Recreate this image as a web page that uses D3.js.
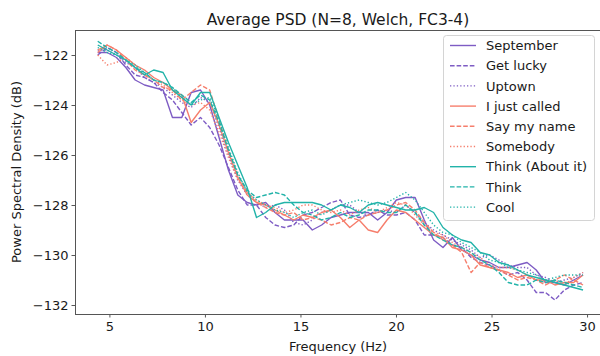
<!DOCTYPE html>
<html>
<head>
<meta charset="utf-8">
<script src="https://cdn.jsdelivr.net/npm/d3@7.9.0/dist/d3.min.js"></script>
<style>
  body { margin: 0; background: #fff; }
  svg { display: block; font-family: "DejaVu Sans", sans-serif; }
</style>
</head>
<body>
<div id="chart"></div>
<script>
// frequency bins (Hz), Welch
const freqs = [4.39, 4.88, 5.37, 5.86, 6.35, 6.84, 7.32, 7.81, 8.30, 8.79, 9.28, 9.77, 10.25,
  10.74, 11.23, 11.72, 12.21, 12.70, 13.18, 13.67, 14.16, 14.65, 15.14, 15.62, 16.11, 16.60,
  17.09, 17.58, 18.07, 18.55, 19.04, 19.53, 20.02, 20.51, 21.00, 21.48, 21.97, 22.46, 22.95,
  23.44, 23.93, 24.41, 24.90, 25.39, 25.88, 26.37, 26.86, 27.34, 27.83, 28.32, 28.81, 29.30, 29.79];

const september = [-121.9, -121.9, -122.1, -122.5, -123.0, -123.2, -123.3, -123.4, -124.5, -124.5,
  -123.5, -123.4, -124.0, -125.3, -126.6, -127.6, -127.9, -128.0, -127.9, -128.3, -128.6, -128.6,
  -128.6, -129.0, -128.8, -128.5, -128.4, -128.3, -128.3, -128.3, -128.6, -128.3, -127.8, -127.7,
  -127.7, -128.6, -129.4, -129.7, -129.3, -129.8, -130.0, -130.2, -130.3, -130.5, -130.5, -130.4,
  -130.3, -130.6, -131.1, -131.1, -131.2, -131.0, -130.8];
const getLucky = [-122.0, -121.7, -121.9, -122.4, -122.8, -122.9, -123.1, -123.5, -123.8, -124.3,
  -124.8, -124.5, -124.9, -125.6, -126.5, -127.4, -128.0, -128.0, -128.5, -128.8, -128.9, -128.8,
  -128.4, -128.3, -128.1, -127.9, -127.8, -128.4, -128.5, -128.4, -128.2, -128.4, -128.4, -128.3,
  -128.6, -129.2, -129.2, -129.3, -129.6, -129.7, -130.1, -130.3, -130.4, -130.6, -130.8, -130.7,
  -131.0, -131.5, -131.5, -131.8, -131.4, -131.2, -131.1];
const uptown = [-121.8, -121.8, -122.0, -122.3, -122.5, -122.9, -123.1, -123.3, -123.6, -123.9,
  -124.1, -123.7, -123.9, -124.9, -126.0, -127.0, -127.6, -127.9, -128.1, -128.0, -128.2, -128.7,
  -128.8, -128.6, -128.3, -128.2, -128.0, -128.0, -128.3, -128.4, -128.3, -128.2, -128.3, -128.0,
  -128.3, -128.7, -129.0, -129.2, -129.4, -129.6, -129.8, -130.1, -130.0, -130.2, -130.4, -130.5,
  -130.5, -130.8, -130.9, -131.1, -131.0, -130.9, -130.7];
const iJustCalled = [-121.9, -121.6, -121.8, -122.1, -122.4, -122.6, -122.9, -123.1, -123.4, -123.6,
  -124.7, -124.2, -123.9, -124.8, -125.9, -126.9, -127.6, -127.9, -128.0, -128.2, -128.4, -128.6,
  -128.4, -128.5, -128.3, -128.2, -128.5, -128.9, -128.6, -129.0, -129.1, -128.6, -128.2, -128.3,
  -128.6, -128.9, -129.2, -129.3, -129.7, -129.8, -130.0, -130.4, -130.5, -130.6, -130.7, -130.9,
  -130.8, -131.0, -131.0, -131.2, -131.1, -131.1, -130.8];
const sayMyName = [-121.8, -121.6, -121.8, -122.2, -122.6, -122.8, -123.0, -123.3, -123.4, -123.8,
  -123.5, -123.2, -123.4, -124.6, -125.8, -126.8, -127.5, -127.9, -128.1, -128.3, -128.4, -128.3,
  -128.6, -128.5, -128.6, -128.8, -128.7, -128.5, -128.6, -128.4, -128.3, -128.2, -128.0, -127.9,
  -128.2, -128.7, -129.1, -129.4, -129.6, -129.9, -130.7, -130.3, -130.5, -130.6, -130.8, -131.0,
  -130.9, -131.0, -131.2, -131.0, -130.8, -131.0, -131.2];
const somebody = [-122.0, -122.4, -122.3, -122.1, -122.4, -122.8, -123.0, -123.2, -123.5, -123.8,
  -124.0, -123.9, -124.2, -125.1, -126.1, -127.0, -127.5, -127.8, -128.0, -128.1, -128.3, -128.2,
  -128.0, -128.0, -128.2, -128.3, -128.2, -128.4, -128.2, -128.1, -128.3, -128.1, -127.9, -128.0,
  -128.4, -128.8, -129.1, -129.2, -129.5, -129.7, -129.9, -130.1, -130.4, -130.5, -130.5, -130.6,
  -130.8, -131.0, -131.1, -131.0, -131.2, -130.9, -130.7];
const thinkAboutIt = [-121.6, -121.8, -122.0, -122.2, -122.5, -122.8, -122.6, -122.7, -123.4, -123.7,
  -124.0, -123.5, -123.5, -124.5, -125.5, -126.4, -127.3, -128.5, -128.3, -128.0, -127.9, -127.9,
  -127.9, -127.9, -128.0, -128.2, -128.0, -128.1, -128.3, -128.0, -127.9, -128.0, -128.1, -128.2,
  -128.2, -128.1, -128.3, -128.9, -129.2, -129.4, -129.5, -129.9, -130.0, -130.3, -130.4, -130.6,
  -130.8, -130.9, -131.0, -131.1, -131.2, -131.3, -131.4];
const think = [-121.45, -121.7, -121.9, -122.2, -122.5, -122.7, -123.0, -123.1, -123.3, -123.6,
  -123.9, -123.6, -123.8, -124.7, -125.8, -126.8, -127.4, -127.7, -127.6, -127.5, -127.6, -128.0,
  -128.3, -128.4, -128.6, -128.5, -128.3, -128.5, -128.4, -128.2, -128.2, -128.3, -128.3, -128.0,
  -128.3, -128.8, -129.2, -129.4, -129.6, -129.7, -129.9, -130.2, -130.4, -130.7, -131.1, -131.2,
  -131.2, -131.0, -131.1, -131.0, -131.1, -131.2, -131.3];
const cool = [-121.7, -121.9, -122.0, -122.2, -122.4, -122.7, -123.0, -123.1, -123.3, -123.7,
  -124.0, -123.8, -123.7, -124.6, -125.7, -126.7, -127.5, -127.8, -128.0, -128.2, -128.3, -128.5,
  -128.3, -128.2, -128.4, -128.2, -128.0, -127.9, -127.8, -127.9, -128.0, -127.9, -127.7, -127.5,
  -127.8, -128.3, -128.8, -129.1, -129.2, -129.5, -129.7, -129.9, -130.2, -130.3, -130.5, -130.6,
  -130.7, -130.8, -131.0, -130.9, -130.8, -130.8, -130.8];

const songNames = ['September', 'Get lucky', 'Uptown', 'I just called', 'Say my name',
  'Somebody', 'Think (About it)', 'Think', 'Cool'];
const songValues = [september, getLucky, uptown, iJustCalled, sayMyName, somebody,
  thinkAboutIt, think, cool];

const xTicks = [5, 10, 15, 20, 25, 30];
const yTicks = [-132, -130, -128, -126, -124, -122];

// style per song: colour by group, dash by position in group
const colors = ['#7e5cc4', '#f67e6c', '#22b3a9'];
const dashes = [null, '4.6,2', '1.3,2.1'];

const width = 600;
const height = 356;
const margin = { top: 30, right: 0, bottom: 42, left: 75 };

const svg = d3.select('#chart')
  .append('svg')
  .attr('width', width)
  .attr('height', height);

const xScale = d3.scaleLinear()
  .domain([3.2, 30.73])
  .range([margin.left, 601]);

const yScale = d3.scaleLinear()
  .domain([-132.36, -121.0])
  .range([height - margin.bottom, margin.top]);

// clip to the axes box
svg.append('clipPath').attr('id', 'clip')
  .append('rect')
  .attr('x', margin.left).attr('y', margin.top)
  .attr('width', 601 - margin.left).attr('height', height - margin.bottom - margin.top);

const line = d3.line()
  .x((d, i) => xScale(freqs[i]))
  .y((d) => yScale(d));

const lines = svg.append('g').attr('clip-path', 'url(#clip)');

songValues.forEach((vals, i) => {
  lines.append('path')
    .datum(vals)
    .attr('d', line)
    .attr('fill', 'none')
    .attr('stroke', colors[Math.floor(i / 3)])
    .attr('stroke-width', 1.4)
    .attr('stroke-dasharray', dashes[i % 3])
    .attr('stroke-linejoin', 'round');
});

// axes
const xAxis = d3.axisBottom(xScale).tickValues(xTicks).tickSize(3.5).tickPadding(4);
const yAxis = d3.axisLeft(yScale).tickValues(yTicks).tickSize(3.5).tickPadding(3)
  .tickFormat((d) => String(d).replace('-', '\u2212'));

const gx = svg.append('g')
  .attr('transform', `translate(0, ${height - margin.bottom})`)
  .call(xAxis);
const gy = svg.append('g')
  .attr('transform', `translate(${margin.left}, 0)`)
  .call(yAxis);

[gx, gy].forEach((g) => {
  g.select('.domain').remove();
  g.selectAll('.tick line').attr('stroke', '#444').attr('stroke-width', 0.9);
  g.selectAll('.tick text')
    .attr('fill', '#1a1a1a')
    .style('font-size', '13px')
    .style('font-family', '"DejaVu Sans", sans-serif');
});

// axes box
svg.append('rect')
  .attr('x', margin.left + 0.5)
  .attr('y', margin.top + 0.5)
  .attr('width', 601 - margin.left)
  .attr('height', height - margin.bottom - margin.top)
  .attr('fill', 'none')
  .attr('stroke', '#555')
  .attr('stroke-width', 1);

// title and labels
svg.append('text')
  .attr('x', (margin.left + 601) / 2)
  .attr('y', 25)
  .attr('text-anchor', 'middle')
  .style('font-size', '15.5px')
  .attr('fill', '#1a1a1a')
  .text('Average PSD (N=8, Welch, FC3-4)');

svg.append('text')
  .attr('x', (margin.left + 601) / 2)
  .attr('y', 351)
  .attr('text-anchor', 'middle')
  .style('font-size', '13px')
  .attr('fill', '#1a1a1a')
  .text('Frequency (Hz)');

svg.append('text')
  .attr('transform', `translate(21, ${(margin.top + height - margin.bottom) / 2}) rotate(-90)`)
  .attr('text-anchor', 'middle')
  .style('font-size', '13px')
  .attr('fill', '#1a1a1a')
  .text('Power Spectral Density (dB)');

// legend
const legend = svg.append('g');
legend.append('rect')
  .attr('x', 443.5).attr('y', 35.5)
  .attr('width', 151).attr('height', 185)
  .attr('rx', 3)
  .attr('fill', 'rgba(255,255,255,0.8)')
  .attr('stroke', '#d4d4d4');

songNames.forEach((name, i) => {
  const cy = 45.5 + i * 20.2;
  legend.append('line')
    .attr('x1', 450).attr('x2', 476)
    .attr('y1', cy).attr('y2', cy)
    .attr('stroke', colors[Math.floor(i / 3)])
    .attr('stroke-width', 1.4)
    .attr('stroke-dasharray', dashes[i % 3]);
  legend.append('text')
    .attr('x', 486)
    .attr('y', cy + 4.6)
    .style('font-size', '13px')
    .attr('fill', '#1a1a1a')
    .text(name);
});
</script>
</body>
</html>
